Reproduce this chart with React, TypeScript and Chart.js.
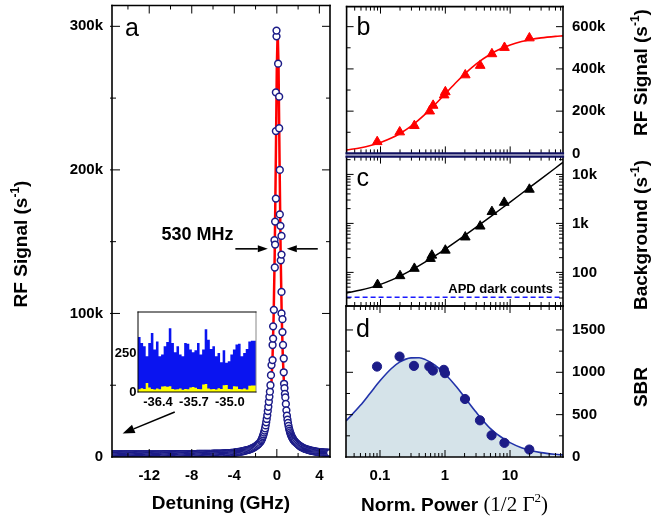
import { useEffect, useRef } from 'react';
import { Chart, registerables } from 'chart.js';

Chart.register(...registerables);

const SANS = '"Liberation Sans", Arial, Helvetica, sans-serif';
const SERIF = '"Liberation Serif", "Times New Roman", serif';
const NAVY = '#1c1c88';
const RED = '#ff0000';
const BLUE = '#0a14f0';
const YELLOW = '#ffff00';
const FILL_D = '#d5e3e9';
const CURVE_D = '#2233aa';

Chart.defaults.font.family = SANS;

// ---------------- panel a : detuning scan ----------------
const DETUNING_TICKS = [-12, -8, -4, 0, 4];
const DETUNING_MINOR = [-14, -10, -6, -2, 2];
const SIGNAL_A_TICKS = [0, 100, 200, 300];
const SIGNAL_A_MINOR = [50, 150, 250];

const LEFT_WING_GHZ = [
  -15.5, -15.4, -15.3, -15.2, -15.1, -15.0, -14.9, -14.8, -14.7, -14.6,
  -14.5, -14.4, -14.3, -14.2, -14.1, -14.0, -13.9, -13.8, -13.7, -13.6,
  -13.5, -13.4, -13.3, -13.2, -13.1, -13.0, -12.9, -12.8, -12.7, -12.6,
  -12.5, -12.4, -12.3, -12.2, -12.1, -12.0, -11.9, -11.8, -11.7, -11.6,
  -11.5, -11.4, -11.3, -11.2, -11.1, -11.0, -10.9, -10.8, -10.7, -10.6,
  -10.5, -10.4, -10.3, -10.2, -10.1, -10.0, -9.9, -9.8, -9.7, -9.6,
  -9.5, -9.4, -9.3, -9.2, -9.1, -9.0, -8.9, -8.8, -8.7, -8.6,
  -8.5, -8.4, -8.3, -8.2, -8.1, -8.0, -7.9, -7.8, -7.7, -7.6,
  -7.5, -7.4, -7.3, -7.2, -7.1, -7.0, -6.9, -6.8, -6.7, -6.6,
  -6.5, -6.4, -6.3, -6.2, -6.1, -6.0, -5.9, -5.8, -5.7, -5.6,
  -5.5, -5.4, -5.3, -5.2, -5.1, -5.0, -4.9, -4.8, -4.7, -4.6,
  -4.5, -4.4, -4.3, -4.2, -4.1, -4.0, -3.9, -3.8, -3.7, -3.6,
  -3.5, -3.4, -3.3, -3.2, -3.1, -3.0, -2.9, -2.8, -2.7, -2.6,
  -2.5, -2.4, -2.3, -2.2, -2.1, -2.0, -1.9, -1.8, -1.7, -1.6,
  -1.5,
];
const LEFT_WING_K = [
  1.8, 1.8, 1.8, 1.8, 1.8, 1.8, 1.8, 1.8, 1.8, 1.8,
  1.8, 1.8, 1.8, 1.8, 1.8, 1.8, 1.8, 1.8, 1.8, 1.8,
  1.8, 1.8, 1.8, 1.8, 1.8, 1.8, 1.8, 1.8, 1.8, 1.8,
  1.8, 1.8, 1.8, 1.8, 1.8, 1.8, 1.8, 1.8, 1.8, 1.8,
  1.8, 1.8, 1.8, 1.8, 1.8, 1.8, 1.8, 1.8, 1.8, 1.9,
  1.9, 1.9, 1.9, 1.9, 1.9, 1.9, 1.9, 1.9, 1.9, 1.9,
  1.9, 1.9, 1.9, 2.0, 2.0, 2.0, 2.0, 2.0, 2.0, 2.0,
  2.0, 2.0, 2.0, 2.0, 2.0, 2.0, 2.0, 2.0, 2.0, 2.0,
  2.1, 2.1, 2.1, 2.1, 2.1, 2.1, 2.1, 2.2, 2.2, 2.2,
  2.2, 2.2, 2.2, 2.2, 2.2, 2.3, 2.3, 2.3, 2.3, 2.3,
  2.4, 2.4, 2.4, 2.4, 2.5, 2.5, 2.5, 2.6, 2.6, 2.6,
  2.7, 2.7, 2.8, 2.8, 2.9, 3.0, 3.2, 3.3, 3.4, 3.5,
  3.6, 3.8, 3.9, 4.0, 4.2, 4.4, 4.6, 4.8, 5.0, 5.2,
  5.5, 5.8, 6.1, 6.5, 6.9, 7.4, 7.9, 8.5, 9.2, 10.0,
  10.9,
];
const PEAK_GHZ = [
  -1.45, -1.4, -1.35, -1.3, -1.25, -1.2, -1.15, -1.1, -1.05, -1.0,
  -0.95, -0.9, -0.85, -0.8, -0.75, -0.7, -0.65, -0.6, -0.55, -0.5,
  -0.4, -0.4, -0.35, -0.35, -0.28, -0.22, -0.19, -0.16, -0.16, -0.09,
  -0.09, -0.09, -0.03, -0.03,
  0.12, 0.22, 0.22, 0.28, 0.28, 0.34, 0.37, 0.44, 0.44, 0.44,
  0.44, 0.53, 0.53, 0.58, 0.65, 0.65, 0.68, 0.72, 0.76, 0.8,
  0.85, 0.9, 0.95, 1.0, 1.05, 1.1, 1.15, 1.2, 1.25, 1.3,
  1.35, 1.4, 1.45, 1.5, 1.55, 1.6, 1.65,
];
const PEAK_K = [
  11.8, 12.6, 13.5, 14.6, 15.7, 17.0, 18.4, 20.0, 22.0, 24.2,
  26.5, 29.0, 32.0, 35.0, 38.5, 42.0, 45.5, 50.0, 57.0, 64.0,
  67.5, 78.0, 82.5, 91.0, 102.5, 151.0, 132.0, 148.0, 164.0, 180.0,
  227.0, 254.0, 293.0, 297.0,
  274.0, 251.0, 229.0, 200.0, 169.0, 161.0, 137.0, 154.0, 141.0, 115.0,
  100.0, 96.0, 87.0, 78.0, 68.6, 59.0, 51.0, 48.0, 44.0, 41.5,
  37.0, 32.5, 28.8, 26.0, 23.7, 21.6, 19.8, 18.4, 17.1, 16.0,
  15.0, 14.2, 13.4, 12.8, 12.2, 11.6, 11.1,
];
const RIGHT_WING_GHZ = [
  1.7, 1.8, 1.9, 2.0, 2.1, 2.2, 2.3, 2.4, 2.5, 2.6,
  2.7, 2.8, 2.9, 3.0, 3.1, 3.2, 3.3, 3.4, 3.5, 3.6,
  3.7, 3.8, 3.9, 4.0, 4.1, 4.2, 4.3, 4.4, 4.5, 4.6,
  4.7, 4.8, 4.9, 5.0,
];
const RIGHT_WING_K = [
  10.7, 10.0, 9.3, 8.6, 8.0, 7.5, 7.0, 6.6, 6.2, 5.9,
  5.6, 5.3, 5.1, 4.9, 4.7, 4.5, 4.3, 4.2, 4.0, 3.9,
  3.8, 3.6, 3.5, 3.4, 3.4, 3.3, 3.2, 3.2, 3.1, 3.1,
  3.0, 3.0, 2.9, 2.9,
];
const FIT_A_GHZ = [
  -15.5, -12, -8, -6, -4, -3, -2.5, -2, -1.5, -1.2, -1.0, -0.8, -0.6, -0.5, -0.4, -0.3, -0.2, -0.1,
  0, 0.08, 0.16, 0.26, 0.36, 0.46, 0.56, 0.66, 0.76, 0.96, 1.16, 1.36, 1.66, 2.16, 2.66, 3.16, 4.16, 5,
];
const FIT_A_K = [
  1.8, 1.8, 2.0, 2.3, 2.9, 3.9, 4.8, 6.4, 9.8, 13.8, 18.5, 26.2, 40.6, 52.7, 70.6, 98.2, 141.1, 203.6,
  272.1, 296.7, 272.1, 203.6, 141.1, 98.2, 70.6, 52.7, 40.6, 26.2, 18.5, 13.8, 9.8, 6.4, 4.8, 3.9, 2.9, 2.6,
];

// inset histogram (far detuned, -36.8 .. -34.5 GHz)
const INSET_TICKS = [-36.4, -35.7, -35.0];
const INSET_Y_TICKS = [0, 250];
const INSET_BIN_GHZ = [
  -36.79, -36.74, -36.69, -36.64, -36.59, -36.54, -36.49, -36.44, -36.39, -36.34,
  -36.29, -36.24, -36.19, -36.14, -36.09, -36.04, -35.99, -35.94, -35.89, -35.84,
  -35.79, -35.74, -35.69, -35.64, -35.59, -35.54, -35.49, -35.44, -35.39, -35.34,
  -35.29, -35.24, -35.19, -35.14, -35.09, -35.04, -34.99, -34.94, -34.89, -34.84,
  -34.79, -34.74, -34.69, -34.64, -34.59, -34.54, -34.49,
];
const INSET_BLUE = [
  233, 357, 318, 297, 233, 318, 383, 276, 329, 233,
  244, 297, 325, 415, 318, 258, 297, 244, 233, 318,
  314, 276, 258, 271, 318, 244, 276, 408, 340, 280,
  297, 233, 254, 194, 271, 190, 200, 244, 276, 308,
  314, 233, 254, 280, 329, 333, 333,
];
const INSET_YELLOW = [
  22, 18, 25, 20, 58, 30, 20, 16, 22, 18,
  36, 38, 34, 37, 20, 16, 18, 22, 15, 20,
  18, 30, 32, 28, 20, 18, 48, 52, 22, 18,
  20, 16, 24, 20, 44, 46, 20, 18, 37, 35,
  20, 18, 22, 16, 40, 42, 42,
];

// ---------------- panels b, c, d : power dependence ----------------
const POWER_TICKS = [0.1, 1, 10];
const POWER_MINOR = [
  0.03, 0.04, 0.05, 0.06, 0.07, 0.08, 0.09, 0.2, 0.3, 0.4, 0.5, 0.6, 0.7, 0.8, 0.9,
  2, 3, 4, 5, 6, 7, 8, 9, 20, 30, 40, 50, 60,
];
const SIGNAL_B_TICKS = [0, 200, 400, 600];
const SIGNAL_B_MINOR = [100, 300, 500];
const BG_TICKS = [100, 1000, 10000];
const BG_MINOR = [
  30, 40, 50, 60, 70, 80, 90, 200, 300, 400, 500, 600, 700, 800, 900,
  2000, 3000, 4000, 5000, 6000, 7000, 8000, 9000, 20000,
];
const SBR_TICKS = [0, 500, 1000, 1500];
const SBR_MINOR = [250, 750, 1250];

const POWER_B = [0.089, 0.198, 0.333, 0.574, 0.648, 0.96, 1.0, 2.03, 3.45, 5.23, 8.17, 19.8];
const SIGNAL_B_K = [55, 101, 131, 200, 227, 276, 291, 371, 416, 471, 501, 546];
const POWER_C = [0.09, 0.2, 0.333, 0.59, 0.62, 1.0, 2.03, 3.45, 5.23, 8.1, 19.8];
const BACKGROUND_C = [56, 85, 120, 191, 223, 282, 524, 875, 1730, 2670, 4940];
const POWER_D = [0.09, 0.2, 0.333, 0.574, 0.65, 0.96, 1.0, 2.03, 3.45, 5.2, 8.2, 19.8];
const SBR_D = [1068, 1186, 1076, 1068, 1021, 1029, 990, 685, 433, 256, 167, 88];

const FIT_POWER = [0.03, 0.05, 0.07, 0.1, 0.15, 0.2, 0.3, 0.5, 0.7, 1, 1.5, 2, 3, 5, 7, 10, 15, 20, 30, 50, 65.3];
const FIT_B_K = [16.5, 26.9, 37.0, 51.4, 73.7, 94.2, 130.4, 188.3, 232.6, 282.5, 339, 376.7, 423.8, 470.8, 494.4, 513.6, 529.7, 538.1, 546.8, 553.9, 556.5];
const FIT_C = [38.1, 43.5, 48.9, 57, 70.5, 84, 111, 165, 219, 300, 435, 570, 840, 1380, 1920, 2730, 4080, 5430, 8130, 13530, 17660];
const FIT_D_POWER = [0.03, 0.05, 0.07, 0.1, 0.15, 0.2, 0.3, 0.4, 0.5, 0.7, 1, 1.5, 2, 3, 5, 7, 10, 15, 20, 30, 50, 65.3];
const FIT_D = [425, 610, 750, 900, 1045, 1120, 1170, 1172, 1150, 1085, 980, 830, 705, 530, 335, 245, 170, 110, 80, 52, 32, 25];
const APD_DARK_POWER = [0.03, 65.3];
const APD_DARK = [31, 31];

// ---------------- texts ----------------
const TITLE_A_X = 'Detuning (GHz)';
const TITLE_SIGNAL = 'RF Signal (s';
const TITLE_BG = 'Background (s';
const TITLE_SBR = 'SBR';
const TITLE_POWER = 'Norm. Power ';
const TITLE_POWER_UNIT = '(1/2 Γ';
const FWHM_LABEL = '530 MHz';
const APD_LABEL = 'APD dark counts';

type Pt = { x: number; y: number };
const zip = (xs: number[], ys: number[]): Pt[] => xs.map((x, i) => ({ x, y: ys[i] }));

const TITLE_FONT = `bold 19px ${SANS}`;
const SUP_FONT = `bold 12px ${SANS}`;
const tickFont = { family: SANS, size: 15, weight: 'bold' as const };

interface Run { t: string; font: string; rise?: number }
function drawRuns(ctx: CanvasRenderingContext2D, runs: Run[], cx: number, cy: number, base: number, vertical: boolean) {
  ctx.save();
  ctx.translate(cx, cy);
  if (vertical) ctx.rotate(-Math.PI / 2);
  let total = 0;
  const widths = runs.map((r) => {
    ctx.font = r.font;
    const w = ctx.measureText(r.t).width;
    total += w;
    return w;
  });
  let x = -total / 2;
  ctx.fillStyle = '#000';
  ctx.textAlign = 'left';
  ctx.textBaseline = 'alphabetic';
  runs.forEach((r, i) => {
    ctx.font = r.font;
    ctx.fillText(r.t, x, base - (r.rise ?? 0));
    x += widths[i];
  });
  ctx.restore();
}
const unitRuns = (main: string): Run[] => [
  { t: main, font: TITLE_FONT },
  { t: '-1', font: SUP_FONT, rise: 8 },
  { t: ')', font: TITLE_FONT },
];

function label(ctx: CanvasRenderingContext2D, s: string, x: number, y: number, font: string, align: CanvasTextAlign = 'left') {
  ctx.font = font;
  ctx.textAlign = align;
  ctx.textBaseline = 'alphabetic';
  ctx.fillStyle = '#000';
  ctx.fillText(s, x, y);
}

function arrow(ctx: CanvasRenderingContext2D, x1: number, y1: number, x2: number, y2: number, head: number, half: number) {
  const a = Math.atan2(y2 - y1, x2 - x1);
  const bx = x2 - head * Math.cos(a);
  const by = y2 - head * Math.sin(a);
  ctx.beginPath();
  ctx.moveTo(x1, y1);
  ctx.lineTo(bx, by);
  ctx.stroke();
  ctx.beginPath();
  ctx.moveTo(x2, y2);
  ctx.lineTo(bx + half * Math.sin(a), by - half * Math.cos(a));
  ctx.lineTo(bx - half * Math.sin(a), by + half * Math.cos(a));
  ctx.closePath();
  ctx.fill();
}

type Side = 'top' | 'bottom' | 'left' | 'right';
interface FrameCfg {
  xMajor: number[]; xMinor: number[]; yMajor: number[]; yMinor: number[];
  majorLen: number; minorLen: number; leftOut?: number; lineWidth: number;
  sideColor?: Partial<Record<Side, string>>;
  sideWidth?: Partial<Record<Side, number>>;
  background?: string;
  decorate?: (chart: any, ctx: CanvasRenderingContext2D) => void;
}

function makeFrame(cfg: FrameCfg) {
  return {
    id: 'frameTicks',
    beforeDatasetsDraw(chart: any) {
      if (!cfg.background) return;
      const { ctx, chartArea: a } = chart;
      ctx.save();
      ctx.fillStyle = cfg.background;
      ctx.fillRect(a.left, a.top, a.right - a.left, a.bottom - a.top);
      ctx.restore();
    },
    afterDatasetsDraw(chart: any) {
      const { ctx, chartArea: a } = chart;
      const xs = chart.scales.x;
      const ys = chart.scales.y;
      ctx.save();
      ctx.strokeStyle = '#000';
      ctx.lineWidth = 1;
      const seg = (x1: number, y1: number, x2: number, y2: number) => {
        ctx.beginPath();
        ctx.moveTo(x1, y1);
        ctx.lineTo(x2, y2);
        ctx.stroke();
      };
      const xt = (vals: number[], len: number) => {
        for (const v of vals) {
          const p = xs.getPixelForValue(v);
          if (p <= a.left + 1 || p >= a.right - 1) continue;
          seg(p, a.bottom, p, a.bottom - len);
          seg(p, a.top, p, a.top + len);
        }
      };
      const yt = (vals: number[], len: number) => {
        for (const v of vals) {
          const p = ys.getPixelForValue(v);
          if (p <= a.top + 1 || p >= a.bottom - 1) continue;
          seg(a.left - (cfg.leftOut ?? 0), p, a.left + len, p);
          seg(a.right, p, a.right - len, p);
        }
      };
      xt(cfg.xMinor, cfg.minorLen);
      xt(cfg.xMajor, cfg.majorLen);
      yt(cfg.yMinor, cfg.minorLen);
      yt(cfg.yMajor, cfg.majorLen);
      const sides: [Side, number, number, number, number][] = [
        ['left', a.left, a.top, a.left, a.bottom],
        ['right', a.right, a.top, a.right, a.bottom],
        ['top', a.left, a.top, a.right, a.top],
        ['bottom', a.left, a.bottom, a.right, a.bottom],
      ];
      ctx.lineCap = 'square';
      for (const [s, x1, y1, x2, y2] of sides) {
        ctx.strokeStyle = cfg.sideColor?.[s] ?? '#000';
        ctx.lineWidth = cfg.sideWidth?.[s] ?? cfg.lineWidth;
        seg(x1, y1, x2, y2);
      }
      ctx.restore();
      if (cfg.decorate) {
        ctx.save();
        cfg.decorate(chart, ctx);
        ctx.restore();
      }
    },
  };
}

const axisBase = {
  grid: { display: false, drawTicks: false },
  border: { display: false },
};
const setTicks = (vals: number[]) => (s: any) => {
  s.ticks = vals.map((value) => ({ value }));
};
// fixes the axis box size and removes the label overflow padding
const fixWidth = (w: number) => (s: any) => {
  s.width = w;
  s.paddingTop = 0; s.paddingBottom = 0; s.paddingLeft = 0; s.paddingRight = 0;
};
const fixHeight = (h: number) => (s: any) => {
  s.height = h;
  s.paddingTop = 0; s.paddingBottom = 0; s.paddingLeft = 0; s.paddingRight = 0;
};
const kLabel = (v: any) => (Number(v) === 0 ? '0' : `${v}k`);
const plainLabel = (v: any) => String(v);
const common = {
  animation: false as const,
  responsive: false,
  events: [] as any[],
  plugins: { legend: { display: false }, tooltip: { enabled: false } },
};

function configA(): any {
  return {
    type: 'line',
    data: {
      datasets: [
        {
          data: [...zip(LEFT_WING_GHZ, LEFT_WING_K), ...zip(PEAK_GHZ, PEAK_K), ...zip(RIGHT_WING_GHZ, RIGHT_WING_K)],
          showLine: false,
          pointRadius: 3.4,
          pointBorderWidth: 1.5,
          pointBackgroundColor: '#ffffff',
          pointBorderColor: NAVY,
        },
        {
          data: zip(FIT_A_GHZ, FIT_A_K),
          showLine: true,
          borderColor: RED,
          borderWidth: 2.5,
          pointRadius: 0,
          tension: 0,
        },
      ],
    },
    options: {
      ...common,
      layout: { padding: { left: 0, right: 15, top: 3, bottom: 0 } },
      scales: {
        x: {
          ...axisBase,
          type: 'linear',
          min: -15.5,
          max: 5,
          afterBuildTicks: setTicks(DETUNING_TICKS),
          afterFit: fixHeight(65),
          ticks: { font: tickFont, color: '#000', padding: 10, autoSkip: false, maxRotation: 0 },
          title: {
            display: true,
            text: TITLE_A_X,
            color: '#000',
            font: { family: SANS, size: 19, weight: 'bold' },
            padding: { top: 0, bottom: 7 },
          },
        },
        y: {
          ...axisBase,
          type: 'linear',
          min: 0,
          max: 314.5,
          afterBuildTicks: setTicks(SIGNAL_A_TICKS),
          afterFit: fixWidth(112),
          ticks: { font: tickFont, color: '#000', padding: 9, callback: kLabel },
        },
      },
    },
    plugins: [
      makeFrame({
        xMajor: DETUNING_TICKS, xMinor: DETUNING_MINOR, yMajor: SIGNAL_A_TICKS, yMinor: SIGNAL_A_MINOR,
        majorLen: 8, minorLen: 4, leftOut: 2, lineWidth: 1.6,
        decorate: (chart, ctx) => {
          const X = (v: number) => chart.scales.x.getPixelForValue(v);
          const Y = (v: number) => chart.scales.y.getPixelForValue(v);
          label(ctx, 'a', 125, 36, `25px ${SANS}`);
          label(ctx, FWHM_LABEL, X(-10.85), Y(151), `bold 18px ${SANS}`);
          ctx.fillStyle = '#000';
          ctx.strokeStyle = '#000';
          ctx.lineWidth = 1.6;
          arrow(ctx, X(-3.9), Y(145), X(-0.85), Y(145), 10, 3.5);
          arrow(ctx, X(3.85), Y(145), X(0.94), Y(145), 10, 3.5);
          arrow(ctx, X(-9.6), Y(31.4), X(-14.5), Y(16.4), 12, 4.5);
          drawRuns(ctx, unitRuns(TITLE_SIGNAL), 20, 244, 6.8, true);
        },
      }),
    ],
  };
}

function configInset(): any {
  const steps = (vals: number[]) => zip(INSET_BIN_GHZ, vals);
  return {
    type: 'line',
    data: {
      datasets: [
        { data: steps(INSET_YELLOW), showLine: true, stepped: 'after', fill: 'origin', backgroundColor: YELLOW, borderColor: YELLOW, borderWidth: 0, pointRadius: 0 },
        { data: steps(INSET_BLUE), showLine: true, stepped: 'after', fill: 'origin', backgroundColor: BLUE, borderColor: BLUE, borderWidth: 0, pointRadius: 0 },
      ],
    },
    options: {
      ...common,
      layout: { padding: { left: 0, right: 9, top: 7, bottom: 0 } },
      scales: {
        x: {
          ...axisBase,
          type: 'linear',
          min: -36.79,
          max: -34.49,
          afterBuildTicks: setTicks(INSET_TICKS),
          afterFit: fixHeight(23),
          ticks: { font: { family: SANS, size: 13, weight: 'bold' }, color: '#000', padding: 3, autoSkip: false, maxRotation: 0, callback: (v: any) => Number(v).toFixed(1) },
        },
        y: {
          ...axisBase,
          type: 'linear',
          min: 0,
          max: 520,
          afterBuildTicks: setTicks(INSET_Y_TICKS),
          afterFit: fixWidth(38),
          ticks: { font: { family: SANS, size: 13, weight: 'bold' }, color: '#000', padding: 1.5, callback: plainLabel },
        },
      },
    },
    plugins: [
      makeFrame({
        xMajor: [], xMinor: [], yMajor: [], yMinor: [],
        majorLen: 0, minorLen: 0, lineWidth: 1,
        sideColor: { right: '#888888' },
        background: '#ffffff',
      }),
    ],
  };
}

function powerX(showLabels: boolean, height: number): any {
  return {
    ...axisBase,
    type: 'logarithmic',
    min: 0.03,
    max: 65.3,
    afterBuildTicks: setTicks(POWER_TICKS),
    afterFit: fixHeight(height),
    ticks: { display: showLabels, font: tickFont, color: '#000', padding: 10, autoSkip: false, maxRotation: 0, callback: plainLabel },
  };
}

function configB(): any {
  return {
    type: 'line',
    data: {
      datasets: [
        { data: zip(POWER_B, SIGNAL_B_K), showLine: false, pointStyle: 'triangle', pointRadius: 5.6, pointBackgroundColor: RED, pointBorderColor: RED, pointBorderWidth: 1 },
        { data: zip(FIT_POWER, FIT_B_K), showLine: true, borderColor: RED, borderWidth: 1.6, pointRadius: 0, cubicInterpolationMode: 'monotone' },
      ],
    },
    options: {
      ...common,
      layout: { padding: { left: 6, right: 0, top: 3, bottom: 0 } },
      scales: {
        x: powerX(false, 5),
        y: {
          ...axisBase,
          type: 'linear',
          position: 'right',
          min: 0,
          max: 695,
          afterBuildTicks: setTicks(SIGNAL_B_TICKS),
          afterFit: fixWidth(89),
          ticks: { font: tickFont, color: '#000', padding: 9, callback: kLabel },
        },
      },
    },
    plugins: [
      makeFrame({
        xMajor: POWER_TICKS, xMinor: POWER_MINOR, yMajor: SIGNAL_B_TICKS, yMinor: SIGNAL_B_MINOR,
        majorLen: 7, minorLen: 4, lineWidth: 1.6,
        sideColor: { bottom: '#101060' }, sideWidth: { bottom: 2.2 },
        decorate: (_chart, ctx) => {
          label(ctx, 'b', 16.5, 35, `25px ${SANS}`);
          drawRuns(ctx, unitRuns(TITLE_SIGNAL), 300.5, 72.5, 6.8, true);
        },
      }),
    ],
  };
}

function configC(): any {
  return {
    type: 'line',
    data: {
      datasets: [
        { data: zip(POWER_C, BACKGROUND_C), showLine: false, pointStyle: 'triangle', pointRadius: 5.6, pointBackgroundColor: '#000', pointBorderColor: '#000', pointBorderWidth: 1 },
        { data: zip(FIT_POWER, FIT_C), showLine: true, borderColor: '#000', borderWidth: 1.5, pointRadius: 0, cubicInterpolationMode: 'monotone' },
        { data: zip(APD_DARK_POWER, APD_DARK), showLine: true, borderColor: '#1a1aff', borderWidth: 1.6, borderDash: [5, 3], pointRadius: 0 },
      ],
    },
    options: {
      ...common,
      layout: { padding: { left: 6, right: 0, top: 5, bottom: 0 } },
      scales: {
        x: powerX(false, 16),
        y: {
          ...axisBase,
          type: 'logarithmic',
          position: 'right',
          min: 20.6,
          max: 23100,
          afterBuildTicks: setTicks(BG_TICKS),
          afterFit: fixWidth(89),
          ticks: { font: tickFont, color: '#000', padding: 9, callback: (v: any) => (Number(v) >= 1000 ? `${Number(v) / 1000}k` : String(v)) },
        },
      },
    },
    plugins: [
      makeFrame({
        xMajor: POWER_TICKS, xMinor: POWER_MINOR, yMajor: BG_TICKS, yMinor: BG_MINOR,
        majorLen: 7, minorLen: 4, lineWidth: 1.6,
        sideColor: { top: '#101060' }, sideWidth: { top: 2.2 },
        decorate: (_chart, ctx) => {
          label(ctx, 'c', 16.5, 36, `25px ${SANS}`);
          label(ctx, APD_LABEL, 213, 143, `bold 13px ${SANS}`, 'right');
          drawRuns(ctx, unitRuns(TITLE_BG), 300.5, 85, 6.8, true);
        },
      }),
    ],
  };
}

function configD(): any {
  return {
    type: 'line',
    data: {
      datasets: [
        { data: zip(POWER_D, SBR_D), showLine: false, pointStyle: 'circle', pointRadius: 4.6, pointBackgroundColor: NAVY, pointBorderColor: NAVY, pointBorderWidth: 1 },
        { data: zip(FIT_D_POWER, FIT_D), showLine: true, borderColor: CURVE_D, borderWidth: 1.6, pointRadius: 0, cubicInterpolationMode: 'monotone', fill: 'origin', backgroundColor: FILL_D },
      ],
    },
    options: {
      ...common,
      layout: { padding: { left: 6, right: 0, top: 6, bottom: 0 } },
      scales: {
        x: powerX(true, 65),
        y: {
          ...axisBase,
          type: 'linear',
          position: 'right',
          min: 0,
          max: 1783,
          afterBuildTicks: setTicks(SBR_TICKS),
          afterFit: fixWidth(89),
          ticks: { font: tickFont, color: '#000', padding: 9, callback: plainLabel },
        },
      },
    },
    plugins: [
      makeFrame({
        xMajor: POWER_TICKS, xMinor: POWER_MINOR, yMajor: SBR_TICKS, yMinor: SBR_MINOR,
        majorLen: 7, minorLen: 4, lineWidth: 1.6,
        decorate: (_chart, ctx) => {
          label(ctx, 'd', 16, 37, `25px ${SANS}`);
          drawRuns(ctx, [{ t: TITLE_SBR, font: TITLE_FONT }], 300.5, 87, 6.8, true);
          drawRuns(ctx, [
            { t: TITLE_POWER, font: TITLE_FONT },
            { t: TITLE_POWER_UNIT, font: `21px ${SERIF}` },
            { t: '2', font: `13px ${SERIF}`, rise: 9 },
            { t: ')', font: `21px ${SERIF}` },
          ], 114.5, 203.5, 7.5, false);
        },
      }),
    ],
  };
}

export default function App() {
  const aRef = useRef<HTMLCanvasElement>(null);
  const insetRef = useRef<HTMLCanvasElement>(null);
  const bRef = useRef<HTMLCanvasElement>(null);
  const cRef = useRef<HTMLCanvasElement>(null);
  const dRef = useRef<HTMLCanvasElement>(null);

  useEffect(() => {
    const charts = [
      new Chart(aRef.current!, configA()),
      new Chart(insetRef.current!, configInset()),
      new Chart(bRef.current!, configB()),
      new Chart(cRef.current!, configC()),
      new Chart(dRef.current!, configD()),
    ];
    return () => charts.forEach((c) => c.destroy());
  }, []);

  const pos = (left: number, top: number) => ({ position: 'absolute' as const, left, top, display: 'block' });
  return (
    <div style={{ position: 'absolute', left: 0, top: 0, width: 652, height: 522, background: '#fff', overflow: 'hidden' }}>
      <canvas ref={aRef} width={345} height={522} style={pos(0, 0)} />
      <canvas ref={insetRef} width={165} height={110} style={pos(100, 305)} />
      <canvas ref={bRef} width={312} height={160} style={pos(340, 0)} />
      <canvas ref={cRef} width={312} height={172} style={pos(340, 150)} />
      <canvas ref={dRef} width={312} height={222} style={pos(340, 300)} />
    </div>
  );
}
